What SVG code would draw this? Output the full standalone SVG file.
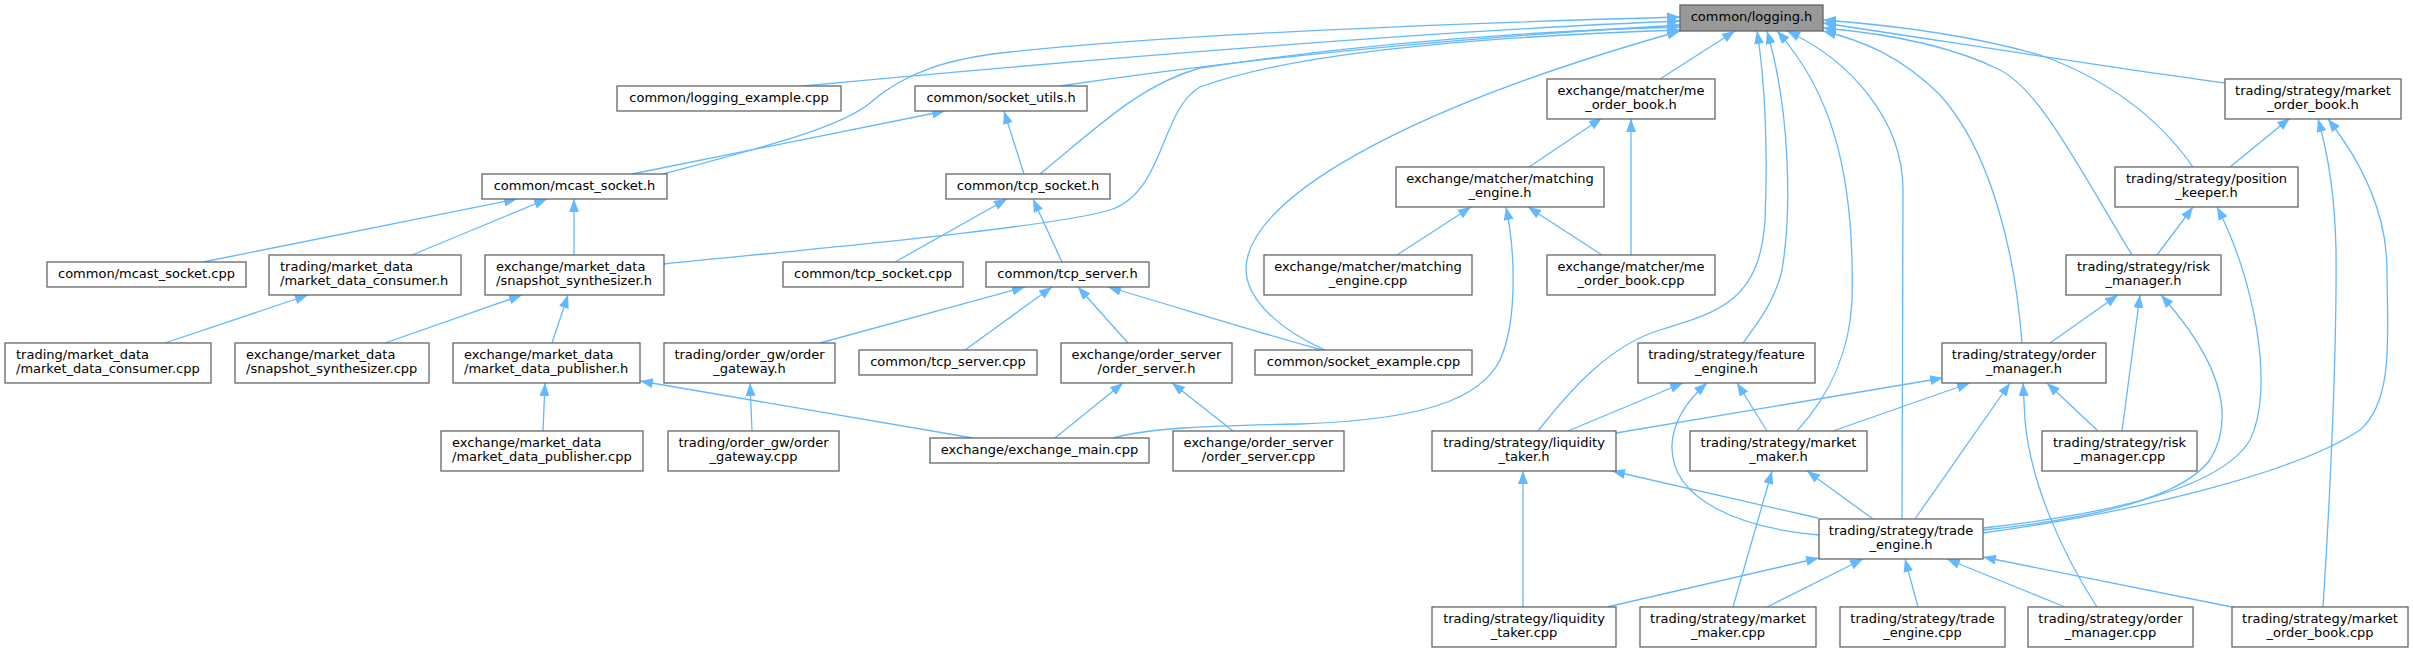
<svg xmlns="http://www.w3.org/2000/svg" width="2413" height="652" viewBox="0 0 2413 652">
<style>
.n rect{fill:#fff;stroke:#666;stroke-width:1.3}
#logging rect{fill:#999}
.n text{font-family:"DejaVu Sans","Liberation Sans",sans-serif;font-size:13px;fill:#000;text-anchor:middle}
.n text.l{text-anchor:start}
.e path{fill:none;stroke:#63b8ff;stroke-width:1.3;marker-end:url(#a)}
</style>
<defs>
<marker id="a" viewBox="0 0 13 10" refX="13" refY="5" markerWidth="13" markerHeight="10" markerUnits="userSpaceOnUse" orient="auto"><path d="M0,0 L13,5 L0,10 z" fill="#63b8ff"/></marker>
</defs>
<rect width="2413" height="652" fill="#fff"/>
<g class="e" id="edges">
<path d="M803,86 C1100,58 1450,30 1680,21"/>
<path d="M1060,86 C1250,58 1450,38 1680,25"/>
<path d="M663,174 C760,148 840,128 870,103 C905,72 950,58 1010,52 C1200,32 1500,22 1680,17"/>
<path d="M1040,174 C1100,125 1140,85 1200,68 C1350,45 1500,32 1680,27"/>
<path d="M664,264 C800,250 1050,228 1110,210 C1165,192 1160,110 1200,87 C1300,50 1500,36 1680,30"/>
<path d="M1325,350 C1280,330 1247,300 1246,270 C1245,200 1400,110 1680,31"/>
<path d="M2193,167 C2160,120 2110,80 2040,55 C1970,35 1890,25 1823,20"/>
<path d="M2225,83 C2100,66 1950,42 1823,23"/>
<path d="M2132,255 C2080,170 2040,90 2000,70 C1950,45 1880,33 1823,28"/>
<path d="M2022,343 C2015,250 1990,150 1940,95 C1900,55 1860,40 1823,31"/>
<path d="M1660,79 L1735,31"/>
<path d="M1538,431 C1570,390 1610,345 1660,330 C1720,312 1760,300 1765,220 C1768,150 1765,80 1757,31"/>
<path d="M1743,343 C1760,320 1775,300 1782,270 C1792,210 1790,110 1767,31"/>
<path d="M1797,431 C1830,395 1850,350 1852,300 C1855,170 1830,90 1777,31"/>
<path d="M1902,519 L1903,190 C1903,120 1850,60 1787,31"/>
<path d="M632,174 L945,111"/>
<path d="M1024,174 L1004,111"/>
<path d="M203,262 L517,199"/>
<path d="M412,255 L547,199"/>
<path d="M574,255 L574,199"/>
<path d="M165,343 L308,295"/>
<path d="M385,343 L522,295"/>
<path d="M552,343 L568,295"/>
<path d="M543,431 L545,383"/>
<path d="M973,438 L640,381"/>
<path d="M752,431 L750,383"/>
<path d="M820,343 L1025,287"/>
<path d="M965,350 L1052,287"/>
<path d="M1128,343 L1078,287"/>
<path d="M1322,350 C1250,330 1180,308 1108,287"/>
<path d="M1055,438 L1123,383"/>
<path d="M1233,431 L1172,383"/>
<path d="M1113,438 C1150,428 1200,426 1300,424 C1420,420 1480,400 1500,360 C1518,320 1515,250 1506,207"/>
<path d="M895,262 L1007,199"/>
<path d="M1062,262 L1033,199"/>
<path d="M1529,167 L1602,118"/>
<path d="M1397,255 L1471,207"/>
<path d="M1602,255 L1528,207"/>
<path d="M1631,255 L1631,119"/>
<path d="M2230,167 L2290,118"/>
<path d="M2157,255 L2193,207"/>
<path d="M2050,343 L2118,295"/>
<path d="M2122,431 L2140,295"/>
<path d="M1983,530 C2080,520 2180,500 2210,460 C2240,410 2210,350 2161,295"/>
<path d="M1983,528 C2100,515 2220,490 2250,440 C2275,390 2255,280 2217,207"/>
<path d="M1983,533 C2150,510 2300,470 2360,430 C2395,400 2387,330 2387,270 C2387,210 2360,160 2328,119"/>
<path d="M2323,607 C2330,500 2337,350 2336,250 C2335,200 2330,160 2318,119"/>
<path d="M2097,607 C2060,550 2030,480 2025,420 L2023,383"/>
<path d="M2098,431 L2047,383"/>
<path d="M1616,433 L1943,378"/>
<path d="M1833,431 L1970,383"/>
<path d="M1915,519 L2010,383"/>
<path d="M1568,431 L1683,383"/>
<path d="M1767,431 L1737,383"/>
<path d="M1819,535 C1740,528 1670,500 1672,445 C1673,420 1690,398 1707,383"/>
<path d="M1818,518 L1612,471"/>
<path d="M1873,519 L1807,471"/>
<path d="M1523,607 L1523,471"/>
<path d="M1607,607 L1819,558"/>
<path d="M1767,607 L1863,559"/>
<path d="M1733,607 L1772,471"/>
<path d="M1918,607 L1905,559"/>
<path d="M2065,607 L1947,559"/>
<path d="M2232,607 L1983,557"/>
</g>
<g class="n" id="logging"><rect x="1680" y="5" width="143" height="26"/><text x="1751.5" y="21">common/logging.h</text></g>
<g class="n" id="logging_example"><rect x="617" y="86" width="224" height="25"/><text x="729" y="102">common/logging_example.cpp</text></g>
<g class="n" id="socket_utils"><rect x="915" y="86" width="172" height="25"/><text x="1001" y="102">common/socket_utils.h</text></g>
<g class="n" id="mcast_socket_h"><rect x="482" y="174" width="185" height="25"/><text x="574.5" y="190">common/mcast_socket.h</text></g>
<g class="n" id="tcp_socket_h"><rect x="946" y="174" width="164" height="25"/><text x="1028" y="190">common/tcp_socket.h</text></g>
<g class="n" id="me_order_book_h"><rect x="1547" y="79" width="168" height="40"/><text x="1631" y="95">exchange/matcher/me</text><text x="1631" y="109">_order_book.h</text></g>
<g class="n" id="matching_engine_h"><rect x="1396" y="167" width="208" height="40"/><text x="1500" y="183">exchange/matcher/matching</text><text x="1500" y="197">_engine.h</text></g>
<g class="n" id="market_order_book_h"><rect x="2225" y="79" width="176" height="40"/><text x="2313" y="95">trading/strategy/market</text><text x="2313" y="109">_order_book.h</text></g>
<g class="n" id="position_keeper_h"><rect x="2115" y="167" width="183" height="40"/><text x="2206.5" y="183">trading/strategy/position</text><text x="2206.5" y="197">_keeper.h</text></g>
<g class="n" id="risk_manager_h"><rect x="2066" y="255" width="155" height="40"/><text x="2143.5" y="271">trading/strategy/risk</text><text x="2143.5" y="285">_manager.h</text></g>
<g class="n" id="mcast_socket_cpp"><rect x="47" y="262" width="199" height="25"/><text x="146.5" y="278">common/mcast_socket.cpp</text></g>
<g class="n" id="market_data_consumer_h"><rect x="269" y="255" width="192" height="40"/><text class="l" x="280" y="271">trading/market_data</text><text class="l" x="280" y="285">/market_data_consumer.h</text></g>
<g class="n" id="snapshot_synthesizer_h"><rect x="485" y="255" width="179" height="40"/><text class="l" x="496" y="271">exchange/market_data</text><text class="l" x="496" y="285">/snapshot_synthesizer.h</text></g>
<g class="n" id="tcp_socket_cpp"><rect x="783" y="262" width="180" height="25"/><text x="873" y="278">common/tcp_socket.cpp</text></g>
<g class="n" id="tcp_server_h"><rect x="986" y="262" width="163" height="25"/><text x="1067.5" y="278">common/tcp_server.h</text></g>
<g class="n" id="matching_engine_cpp"><rect x="1264" y="255" width="208" height="40"/><text x="1368" y="271">exchange/matcher/matching</text><text x="1368" y="285">_engine.cpp</text></g>
<g class="n" id="me_order_book_cpp"><rect x="1547" y="255" width="168" height="40"/><text x="1631" y="271">exchange/matcher/me</text><text x="1631" y="285">_order_book.cpp</text></g>
<g class="n" id="order_manager_h"><rect x="1942" y="343" width="164" height="40"/><text x="2024" y="359">trading/strategy/order</text><text x="2024" y="373">_manager.h</text></g>
<g class="n" id="market_data_consumer_cpp"><rect x="5" y="343" width="206" height="40"/><text class="l" x="16" y="359">trading/market_data</text><text class="l" x="16" y="373">/market_data_consumer.cpp</text></g>
<g class="n" id="snapshot_synthesizer_cpp"><rect x="235" y="343" width="194" height="40"/><text class="l" x="246" y="359">exchange/market_data</text><text class="l" x="246" y="373">/snapshot_synthesizer.cpp</text></g>
<g class="n" id="market_data_publisher_h"><rect x="453" y="343" width="187" height="40"/><text class="l" x="464" y="359">exchange/market_data</text><text class="l" x="464" y="373">/market_data_publisher.h</text></g>
<g class="n" id="order_gateway_h"><rect x="664" y="343" width="171" height="40"/><text x="749.5" y="359">trading/order_gw/order</text><text x="749.5" y="373">_gateway.h</text></g>
<g class="n" id="tcp_server_cpp"><rect x="859" y="350" width="178" height="25"/><text x="948" y="366">common/tcp_server.cpp</text></g>
<g class="n" id="order_server_h"><rect x="1061" y="343" width="171" height="40"/><text x="1146.5" y="359">exchange/order_server</text><text x="1146.5" y="373">/order_server.h</text></g>
<g class="n" id="socket_example"><rect x="1255" y="350" width="217" height="25"/><text x="1363.5" y="366">common/socket_example.cpp</text></g>
<g class="n" id="feature_engine_h"><rect x="1638" y="343" width="177" height="40"/><text x="1726.5" y="359">trading/strategy/feature</text><text x="1726.5" y="373">_engine.h</text></g>
<g class="n" id="liquidity_taker_h"><rect x="1432" y="431" width="184" height="40"/><text x="1524" y="447">trading/strategy/liquidity</text><text x="1524" y="461">_taker.h</text></g>
<g class="n" id="market_maker_h"><rect x="1690" y="431" width="177" height="40"/><text x="1778.5" y="447">trading/strategy/market</text><text x="1778.5" y="461">_maker.h</text></g>
<g class="n" id="risk_manager_cpp"><rect x="2042" y="431" width="155" height="40"/><text x="2119.5" y="447">trading/strategy/risk</text><text x="2119.5" y="461">_manager.cpp</text></g>
<g class="n" id="market_data_publisher_cpp"><rect x="441" y="431" width="202" height="40"/><text class="l" x="452" y="447">exchange/market_data</text><text class="l" x="452" y="461">/market_data_publisher.cpp</text></g>
<g class="n" id="order_gateway_cpp"><rect x="668" y="431" width="171" height="40"/><text x="753.5" y="447">trading/order_gw/order</text><text x="753.5" y="461">_gateway.cpp</text></g>
<g class="n" id="exchange_main"><rect x="930" y="438" width="219" height="25"/><text x="1039.5" y="454">exchange/exchange_main.cpp</text></g>
<g class="n" id="order_server_cpp"><rect x="1173" y="431" width="171" height="40"/><text x="1258.5" y="447">exchange/order_server</text><text x="1258.5" y="461">/order_server.cpp</text></g>
<g class="n" id="trade_engine_h"><rect x="1819" y="519" width="164" height="40"/><text x="1901" y="535">trading/strategy/trade</text><text x="1901" y="549">_engine.h</text></g>
<g class="n" id="liquidity_taker_cpp"><rect x="1432" y="607" width="184" height="40"/><text x="1524" y="623">trading/strategy/liquidity</text><text x="1524" y="637">_taker.cpp</text></g>
<g class="n" id="market_maker_cpp"><rect x="1640" y="607" width="176" height="40"/><text x="1728" y="623">trading/strategy/market</text><text x="1728" y="637">_maker.cpp</text></g>
<g class="n" id="trade_engine_cpp"><rect x="1840" y="607" width="165" height="40"/><text x="1922.5" y="623">trading/strategy/trade</text><text x="1922.5" y="637">_engine.cpp</text></g>
<g class="n" id="order_manager_cpp"><rect x="2028" y="607" width="165" height="40"/><text x="2110.5" y="623">trading/strategy/order</text><text x="2110.5" y="637">_manager.cpp</text></g>
<g class="n" id="market_order_book_cpp"><rect x="2232" y="607" width="176" height="40"/><text x="2320" y="623">trading/strategy/market</text><text x="2320" y="637">_order_book.cpp</text></g>
</svg>
